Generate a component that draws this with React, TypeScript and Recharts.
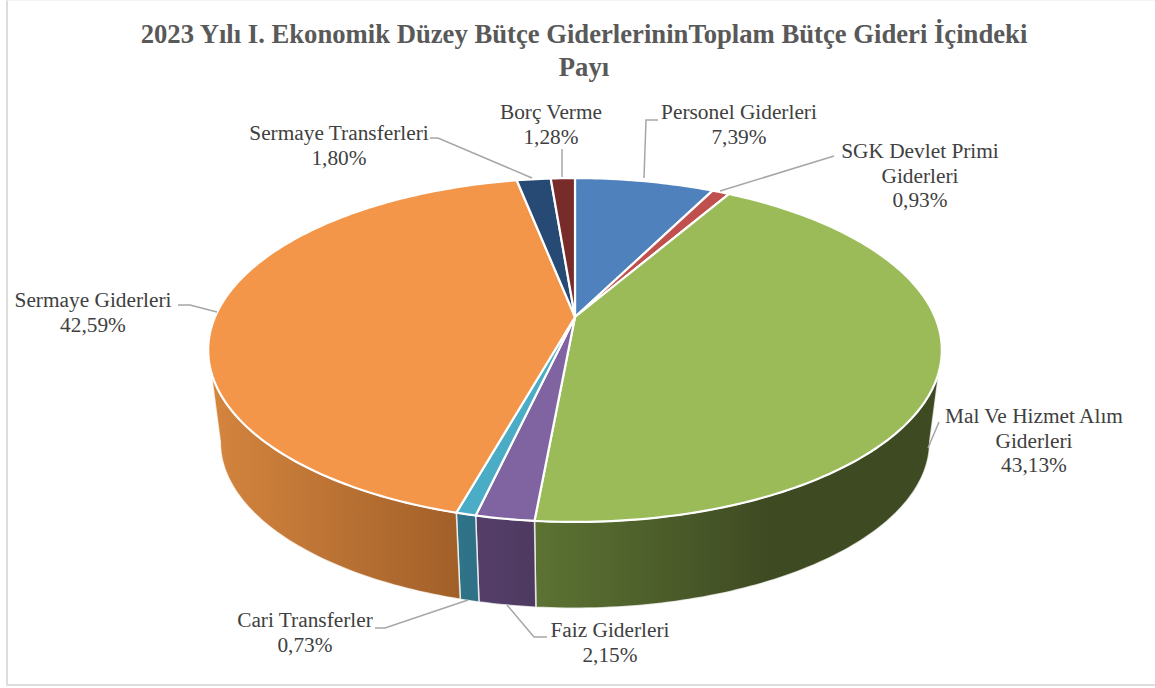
import { PieChart, Pie } from "recharts";

const categories = [
  "Personel Giderleri",
  "SGK Devlet Primi Giderleri",
  "Mal Ve Hizmet Alım Giderleri",
  "Faiz Giderleri",
  "Cari Transferler",
  "Sermaye Giderleri",
  "Sermaye Transferleri",
  "Borç Verme",
];
const shares = [7.39, 0.93, 43.13, 2.15, 0.73, 42.59, 1.8, 1.28];
const titleLines = [
  "2023 Yılı I. Ekonomik Düzey Bütçe GiderlerininToplam Bütçe Gideri İçindeki",
  "Payı",
];
const labelLines = [
  ["Personel Giderleri"],
  ["SGK Devlet Primi", "Giderleri"],
  ["Mal Ve Hizmet Alım", "Giderleri"],
  ["Faiz Giderleri"],
  ["Cari Transferler"],
  ["Sermaye Giderleri"],
  ["Sermaye Transferleri"],
  ["Borç Verme"],
];

const topColors = ["#4F81BD", "#C0504D", "#9BBB59", "#8064A2", "#4BACC6", "#F4964A", "#264A73", "#772C2A"];
const wallColors = [
  ["#2F4D71", "#2F4D71"],
  ["#733030", "#733030"],
  ["#5C7333", "#3E4A22"],
  ["#553F6A", "#4E3A60"],
  ["#2F7488", "#2F7086"],
  ["#D4853E", "#A26029"],
  ["#172C45", "#172C45"],
  ["#471A19", "#471A19"],
];
// gradient extent on screen, x from / x to
const wallSpans = [
  [575, 720],
  [712, 730],
  [535, 770],
  [478, 535],
  [458, 478],
  [212, 456],
  [515, 550],
  [550, 575],
];
// text centre, first baseline, leader polyline
const labelSpots = [
  { x: 739, y: 119, line: "644,178 646,120 658,120" },
  { x: 920, y: 158, line: "720,191 834,156" },
  { x: 1034, y: 423, line: "928,448 939,422" },
  { x: 610, y: 637, line: "507,605 534,637 547,637" },
  { x: 305, y: 627, line: "468,600 385,628 375,628" },
  { x: 93, y: 307, line: "178,305 190,305 217,312" },
  { x: 339, y: 140, line: "430,138 438,138 532,178" },
  { x: 551, y: 119, line: "562,177 562,149" },
];

const data = categories.map((name, i) => ({ name, value: shares[i] }));

const WIDTH = 1155;
const HEIGHT = 688;
const CX = 575;
const CY = 316;
const RADIUS = 360;
const FLATTEN = 0.46; // tilt of the disc
const PERSPECTIVE = 0.192; // near edge bigger than far edge
const DEPTH = 93;
const FLOOR_SCALE = 0.967;
// the wall only shows between the two widest points of the disc
const WALL_FROM = -11.07;
const WALL_TO = -168.93;
const SERIF = "'Liberation Serif', 'Times New Roman', serif";

function project(cx: number, cy: number, r: number, deg: number) {
  const a = (deg * Math.PI) / 180;
  const x = Math.cos(a);
  const y = -Math.sin(a);
  const w = 1 - PERSPECTIVE * y;
  return [cx + (r * x) / w, cy + (r * FLATTEN * y) / w];
}

function arcPoints(cx: number, cy: number, r: number, from: number, to: number) {
  const steps = Math.max(2, Math.ceil(Math.abs(to - from)));
  const pts = [];
  for (let i = 0; i <= steps; i++) {
    pts.push(project(cx, cy, r, from + ((to - from) * i) / steps));
  }
  return pts;
}

const toPath = (pts: number[][]) =>
  "M" + pts.map((p) => p[0].toFixed(2) + "," + p[1].toFixed(2)).join("L") + "Z";

function TopSlice(props: any) {
  const { cx, cy, outerRadius, startAngle, endAngle, index } = props;
  const pts = [[cx, cy], ...arcPoints(cx, cy, outerRadius, startAngle, endAngle)];
  return <path d={toPath(pts)} fill={topColors[index]} stroke="#fff" strokeWidth={2.2} strokeLinejoin="round" />;
}

function WallSlice(props: any) {
  const { cx, cy, outerRadius, startAngle, endAngle, index } = props;
  const from = Math.min(startAngle, WALL_FROM);
  const to = Math.max(endAngle, WALL_TO);
  if (from <= to) return null;
  const top = arcPoints(cx, cy, outerRadius, from, to);
  const floor = arcPoints(cx, cy + DEPTH, outerRadius * FLOOR_SCALE, to, from);
  return (
    <path
      d={toPath([...top, ...floor])}
      fill={`url(#wall-${index})`}
      stroke="#fff"
      strokeOpacity={0.75}
      strokeWidth={1.5}
      strokeLinejoin="round"
    />
  );
}

function SliceLabel(props: any) {
  const { index, value } = props;
  const spot = labelSpots[index];
  const rows = [...labelLines[index], value.toFixed(2).replace(".", ",") + "%"];
  return (
    <g>
      <polyline points={spot.line} fill="none" stroke="#A6A6A6" strokeWidth={1.5} />
      <text textAnchor="middle" fontFamily={SERIF} fontSize={21.33} fill="#404040">
        {rows.map((row, i) => (
          <tspan key={i} x={spot.x} y={spot.y + i * 24.7}>
            {row}
          </tspan>
        ))}
      </text>
    </g>
  );
}

export default function App() {
  return (
    <div style={{ position: "absolute", left: 0, top: 0, width: WIDTH, height: HEIGHT, background: "#fff" }}>
      <div
        style={{
          position: "absolute",
          left: 6,
          top: 0,
          width: WIDTH - 8,
          height: 683,
          borderLeft: "2px solid #DDDDDD",
          borderBottom: "2px solid #DDDDDD",
          borderTop: "1px solid #F4F4F4",
        }}
      />
      <PieChart
        width={WIDTH}
        height={HEIGHT}
        margin={{ top: 0, right: 0, bottom: 0, left: 0 }}
        style={{ position: "absolute" }}
        accessibilityLayer={false}
      >
        <defs>
          {wallColors.map((stops, i) => (
            <linearGradient
              key={i}
              id={`wall-${i}`}
              gradientUnits="userSpaceOnUse"
              x1={wallSpans[i][0]}
              x2={wallSpans[i][1]}
              y1={0}
              y2={0}
            >
              <stop offset="0%" stopColor={stops[0]} />
              <stop offset="100%" stopColor={stops[1]} />
            </linearGradient>
          ))}
        </defs>
        <text textAnchor="middle" fontFamily={SERIF} fontSize={26.67} fontWeight="bold" fill="#595959">
          {titleLines.map((row, i) => (
            <tspan key={i} x={584} y={43 + i * 33}>
              {row}
            </tspan>
          ))}
        </text>
        <Pie
          data={data}
          dataKey="value"
          nameKey="name"
          cx={CX}
          cy={CY + 1}
          outerRadius={RADIUS}
          startAngle={90}
          endAngle={-270}
          isAnimationActive={false}
          labelLine={false}
          shape={WallSlice}
          inactiveShape={WallSlice}
        />
        <Pie
          data={data}
          dataKey="value"
          nameKey="name"
          cx={CX}
          cy={CY + 1}
          outerRadius={RADIUS}
          startAngle={90}
          endAngle={-270}
          isAnimationActive={false}
          label={SliceLabel}
          labelLine={false}
          shape={TopSlice}
          inactiveShape={TopSlice}
        />
      </PieChart>
    </div>
  );
}
